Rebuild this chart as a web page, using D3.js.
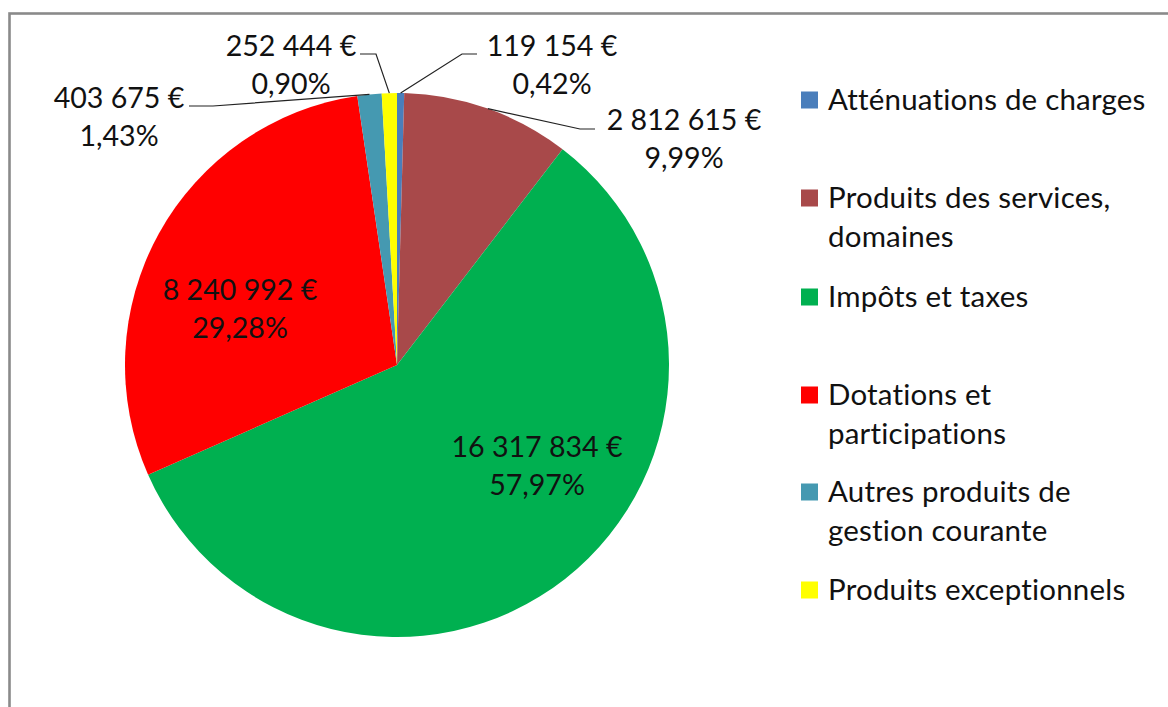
<!DOCTYPE html>
<html>
<head>
<meta charset="utf-8">
<script src="https://cdn.jsdelivr.net/npm/d3@7"></script>
<style>
  html, body { margin: 0; padding: 0; background: #fff; }
  svg { display: block; }
  text { font-family: Lato, "Open Sans", sans-serif; fill: #111; }
</style>
</head>
<body>
<svg id="chart" width="1168" height="707"></svg>
<script>
// ---- data ----
const categories = [
  "Atténuations de charges",
  "Produits des services, domaines",
  "Impôts et taxes",
  "Dotations et participations",
  "Autres produits de gestion courante",
  "Produits exceptionnels"
];
const values = [119154, 2812615, 16317834, 8240992, 403675, 252444];
const valueLabels = ["119 154 €", "2 812 615 €", "16 317 834 €", "8 240 992 €", "403 675 €", "252 444 €"];
const percentLabels = ["0,42%", "9,99%", "57,97%", "29,28%", "1,43%", "0,90%"];
const legendLines = [
  ["Atténuations de charges"],
  ["Produits des services,", "domaines"],
  ["Impôts et taxes"],
  ["Dotations et", "participations"],
  ["Autres produits de", "gestion courante"],
  ["Produits exceptionnels"]
];
const colors = ["#4A7EBB", "#A8494A", "#00B050", "#FF0000", "#4599B1", "#FFFF00"];

// ---- layout (positions / styles) ----
const cx = 397, cy = 365, R = 272;
const labelFont = 28.6;
const legendFont = 29.5;
const lineGap = 38;
// label centre (first line) and leader elbow for each slice
const labelLayout = [
  { x: 552, y: 46, leader: [[462, 54], [477, 54]] },
  { x: 684, y: 120, leader: [[580, 129], [595, 129]] },
  { x: 537, y: 447 },
  { x: 240, y: 290 },
  { x: 119, y: 98, leader: [[213, 106], [189, 106]] },
  { x: 291, y: 46, leader: [[376, 54], [360, 54]] }
];

const svg = d3.select("#chart");

// chart frame
svg.append("rect")
  .attr("x", 9.5).attr("y", 13.5)
  .attr("width", 1300).attr("height", 900)
  .attr("fill", "none")
  .attr("stroke", "#8a8a8a")
  .attr("stroke-width", 2.6);

const pie = d3.pie().sort(null).value(d => d);
const arcs = pie(values);
const arc = d3.arc().innerRadius(0).outerRadius(R);
const color = d3.scaleOrdinal().domain(categories).range(colors);

const g = svg.append("g").attr("transform", `translate(${cx},${cy})`);
g.selectAll("path.slice")
  .data(arcs)
  .join("path")
  .attr("class", "slice")
  .attr("d", arc)
  .attr("fill", (d, i) => color(categories[i]));

// leader lines
const edgeArc = d3.arc().innerRadius(R).outerRadius(R);
arcs.forEach((d, i) => {
  const L = labelLayout[i];
  if (!L.leader) return;
  const [ex, ey] = edgeArc.centroid(d);
  const p = [[cx + ex, cy + ey], ...L.leader];
  svg.append("path")
    .attr("d", d3.line()(p))
    .attr("fill", "none")
    .attr("stroke", "#222")
    .attr("stroke-width", 1.2);
});

// data labels
arcs.forEach((d, i) => {
  const L = labelLayout[i];
  const t = svg.append("text")
    .attr("text-anchor", "middle")
    .attr("font-size", labelFont);
  t.append("tspan").attr("x", L.x).attr("y", L.y).attr("dy", "0.35em").text(valueLabels[i]);
  t.append("tspan").attr("x", L.x).attr("y", L.y + lineGap).attr("dy", "0.35em").text(percentLabels[i]);
});

// legend
const legendY = [100, 198, 297, 395, 492, 590];
const lg = svg.append("g");
categories.forEach((c, i) => {
  const y = legendY[i];
  lg.append("rect")
    .attr("x", 801).attr("y", y - 8.5)
    .attr("width", 17).attr("height", 17)
    .attr("fill", color(c));
  const t = lg.append("text").attr("font-size", legendFont).attr("letter-spacing", 0.2);
  legendLines[i].forEach((line, k) => {
    t.append("tspan")
      .attr("x", 828)
      .attr("y", y + k * 39)
      .attr("dy", "0.35em")
      .text(line);
  });
});
</script>
</body>
</html>
